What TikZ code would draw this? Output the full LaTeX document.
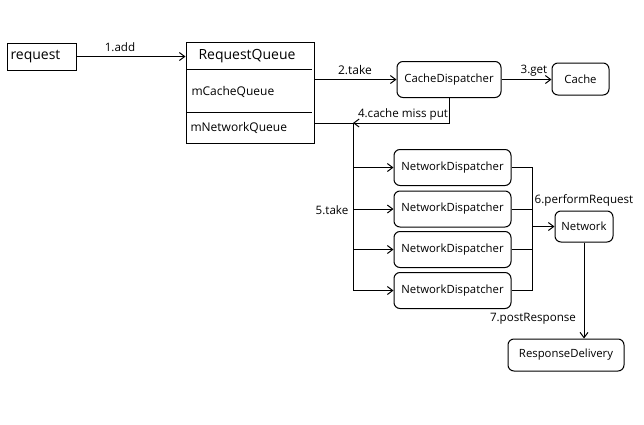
\documentclass[tikz,border=0pt]{standalone}
\usepackage{fontspec}
\setmainfont{Open Sans}
\usetikzlibrary{arrows.meta}
\begin{document}
\begin{tikzpicture}[x=0.75pt,y=-0.75pt,
  line width=0.75pt,
  >={Straight Barb[length=4pt,width=6pt]},
  sq/.style={draw,rectangle,inner sep=0pt},
  rbox/.style={draw,rectangle,rounded corners=4.5pt,inner sep=0pt,font=\fontsize{8.5}{10}\selectfont},
  lbl/.style={inner sep=0pt,font=\fontsize{8.7}{10}\selectfont},
  big/.style={inner sep=0pt,font=\fontsize{10.5}{12}\selectfont},
  mid/.style={inner sep=0pt,font=\fontsize{9}{11}\selectfont}]
\useasboundingbox (0,0) rectangle (644,425);
% request
\node[sq,minimum width=51.75pt,minimum height=20.25pt] (req) at (41.5,56.5) {};
\node[big,anchor=west] (reqt) at (10,57) {request};
% RequestQueue
\node[sq,minimum width=96pt,minimum height=75.75pt] (rq) at (250,92.5) {};
\coordinate (d1a) at (186,69);
\coordinate (d1b) at (312,69);
\coordinate (d2a) at (186,112);
\coordinate (d2b) at (312,112);
\draw (d1a) -- (d1b);
\draw (d2a) -- (d2b);
\node[big] (rqt) at (247,56) {RequestQueue};
\node[mid,anchor=west] (mcq) at (191,92) {mCacheQueue};
\node[mid,anchor=west] (mnq) at (190,128) {mNetworkQueue};
% dispatchers
\node[rbox,minimum width=78pt,minimum height=27pt] (cd) at (449,79.5) {CacheDispatcher};
\node[rbox,minimum width=42.75pt,minimum height=24pt] (cache) at (580.5,79) {Cache};
\node[rbox,minimum width=87.75pt,minimum height=27pt] (nd1) at (452.5,167.5) {NetworkDispatcher};
\node[rbox,minimum width=87.75pt,minimum height=27pt] (nd2) at (452.5,209) {NetworkDispatcher};
\node[rbox,minimum width=87.75pt,minimum height=27pt] (nd3) at (452.5,249.5) {NetworkDispatcher};
\node[rbox,minimum width=87.75pt,minimum height=27pt] (nd4) at (452.5,290.5) {NetworkDispatcher};
\node[rbox,minimum width=43.5pt,minimum height=23.25pt] (net) at (584,226.5) {Network};
\node[rbox,minimum width=87pt,minimum height=24pt] (rd) at (566,355) {ResponseDelivery};
% connectors
\draw[->] (req.east) -- (rq.west |- req.east);
\node[lbl] (l1) at (120,47) {1.add};
\draw[->] (rq.east |- cd.west) -- (cd.west);
\node[mid] (l2) at (355,70) {2.take};
\draw[->] (cd.east) -- (cache.west |- cd.east);
\node[lbl] (l3) at (534,71) {3.get};
\coordinate (bus) at (353,123);
\coordinate (busend) at (353,290.5);
\draw[->] (cd.south) |- (bus);
\node[lbl] (l4) at (403,114) {4.cache miss put};
\draw (rq.east |- bus) -- (bus) -- (busend);
\draw[->] (bus |- nd1.west) -- (nd1.west);
\draw[->] (bus |- nd2.west) -- (nd2.west);
\draw[->] (bus |- nd3.west) -- (nd3.west);
\draw[->] (busend) -- (nd4.west);
\node[lbl] (l5) at (332,210) {5.take};
\coordinate (m) at (532,226.5);
\draw (nd1.east) -| (m);
\draw (nd2.east) -| (m);
\draw (nd3.east) -| (m);
\draw (nd4.east) -| (m);
\draw[->] (m) -- (net.west);
\node[lbl] (l6) at (584,200) {6.performRequest};
\draw[->] (net.south) -- (net.south |- rd.north);
\node[lbl] (l7) at (533,319) {7.postResponse};
\end{tikzpicture}
\end{document}
